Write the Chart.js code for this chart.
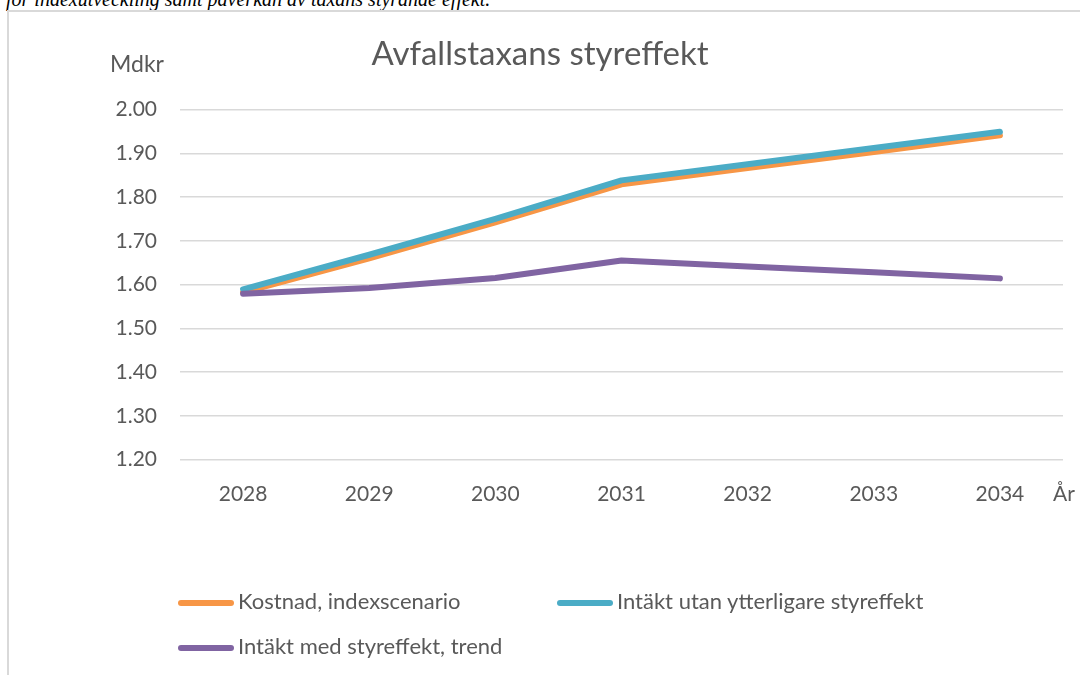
<!DOCTYPE html>
<html>
<head>
<meta charset="utf-8">
<script src="https://cdn.jsdelivr.net/npm/chart.js@4.4.1/dist/chart.umd.min.js"></script>
<style>
  html, body { margin: 0; padding: 0; background: #ffffff; width: 1080px; height: 675px; overflow: hidden; position: relative; }
  #caption { position: absolute; left: 6px; top: -10.75px; font-family: "Liberation Serif", serif; font-style: italic; font-size: 20px; line-height: 20px; color: #000; white-space: nowrap; }
  #box { position: absolute; left: 7px; top: 10px; width: 1200px; height: 800px; border-left: 2px solid #d9d9d9; border-top: 2px solid #d9d9d9; box-sizing: border-box; }
  #wrap { position: absolute; left: 17px; top: 0; width: 1063px; height: 675px; }
  #legend { position: absolute; left: 0; top: 0; width: 1080px; height: 675px; pointer-events: none; }
  .item { position: absolute; height: 22px; font-family: Lato, sans-serif; font-size: 22px; line-height: 22px; color: #595959; white-space: nowrap; }
  .sw { position: absolute; left: 0; top: 10px; width: 56px; height: 6px; border-radius: 3px; }
  .tx { position: absolute; left: 60px; top: 0; }
</style>
</head>
<body>
<div id="caption">för indexutveckling samt påverkan av taxans styrande effekt.</div>
<div id="box"></div>
<div id="wrap"><canvas id="c" width="1063" height="675"></canvas></div>
<div id="legend"></div>
<script>
const years = ['2028', '2029', '2030', '2031', '2032', '2033', '2034'];
const kostnadIndex = [1.582, 1.660, 1.742, 1.829, 1.866, 1.903, 1.941];
const intaktUtan = [1.589, 1.668, 1.750, 1.838, 1.875, 1.912, 1.949];
const intaktMed = [1.579, 1.592, 1.615, 1.655, 1.641, 1.628, 1.614];
const seriesNames = ['Kostnad, indexscenario', 'Intäkt utan ytterligare styreffekt', 'Intäkt med styreffekt, trend'];
const seriesColors = ['#F79646', '#4BACC6', '#8064A2'];
const chartTitle = 'Avfallstaxans styreffekt';
const yUnit = 'Mdkr';
const xUnit = 'År';

const textColor = '#595959';
const gridColor = '#d9d9d9';

const unitLabels = {
  id: 'unitLabels',
  afterDraw(chart) {
    const ctx = chart.ctx;
    const a = chart.chartArea;
    ctx.save();
    ctx.fillStyle = textColor;
    ctx.textBaseline = 'alphabetic';
    ctx.textAlign = 'left';
    ctx.font = '23px Lato, sans-serif';
    ctx.fillText(yUnit, a.left - 70, a.top - 37.5);
    ctx.font = '21px Lato, sans-serif';
    ctx.fillText(xUnit, a.right - 10, a.bottom + 41);
    ctx.restore();
  }
};

const values = [kostnadIndex, intaktUtan, intaktMed];
const datasets = values.map((v, i) => ({
  label: seriesNames[i],
  data: v,
  borderColor: seriesColors[i],
  backgroundColor: seriesColors[i],
  borderWidth: 6,
  pointRadius: 0,
  pointHoverRadius: 0,
  tension: 0,
  borderCapStyle: 'round',
  borderJoinStyle: 'round',
  fill: false,
  order: 2 - i
}));

new Chart(document.getElementById('c'), {
  type: 'line',
  data: { labels: years, datasets: datasets },
  options: {
    responsive: false,
    animation: false,
    layout: { padding: { top: 0, right: 17, bottom: 155.5, left: 0 } },
    plugins: {
      legend: { display: false },
      tooltip: { enabled: false },
      title: {
        display: true,
        text: chartTitle,
        color: textColor,
        font: { family: 'Lato, sans-serif', size: 33, weight: 'normal', lineHeight: 1.2 },
        padding: { top: 34.6, bottom: 35.3 }
      }
    },
    scales: {
      x: {
        offset: true,
        grid: { display: false, drawTicks: false },
        border: { display: false },
        ticks: { color: textColor, font: { family: 'Lato, sans-serif', size: 21 }, padding: 22, maxRotation: 0 },
        afterFit(scale) { scale.height = 60; }
      },
      y: {
        min: 1.2,
        max: 2.0,
        grid: { color: gridColor, lineWidth: 1.5, drawTicks: false },
        border: { display: false },
        ticks: {
          stepSize: 0.1,
          color: textColor,
          font: { family: 'Lato, sans-serif', size: 21 },
          padding: 23,
          callback: (v) => Number(v).toFixed(2)
        },
        afterFit(scale) { scale.width = 163; }
      }
    }
  },
  plugins: [unitLabels]
});

// HTML legend built from the series arrays
const legendEl = document.getElementById('legend');
const legendPos = [[178, 590], [557, 590], [178, 635]];
seriesNames.forEach((name, i) => {
  const it = document.createElement('div');
  it.className = 'item';
  it.style.left = legendPos[i][0] + 'px';
  it.style.top = legendPos[i][1] + 'px';
  const sw = document.createElement('div');
  sw.className = 'sw';
  sw.style.background = seriesColors[i];
  const tx = document.createElement('div');
  tx.className = 'tx';
  tx.textContent = name;
  it.appendChild(sw);
  it.appendChild(tx);
  legendEl.appendChild(it);
});
</script>
</body>
</html>
